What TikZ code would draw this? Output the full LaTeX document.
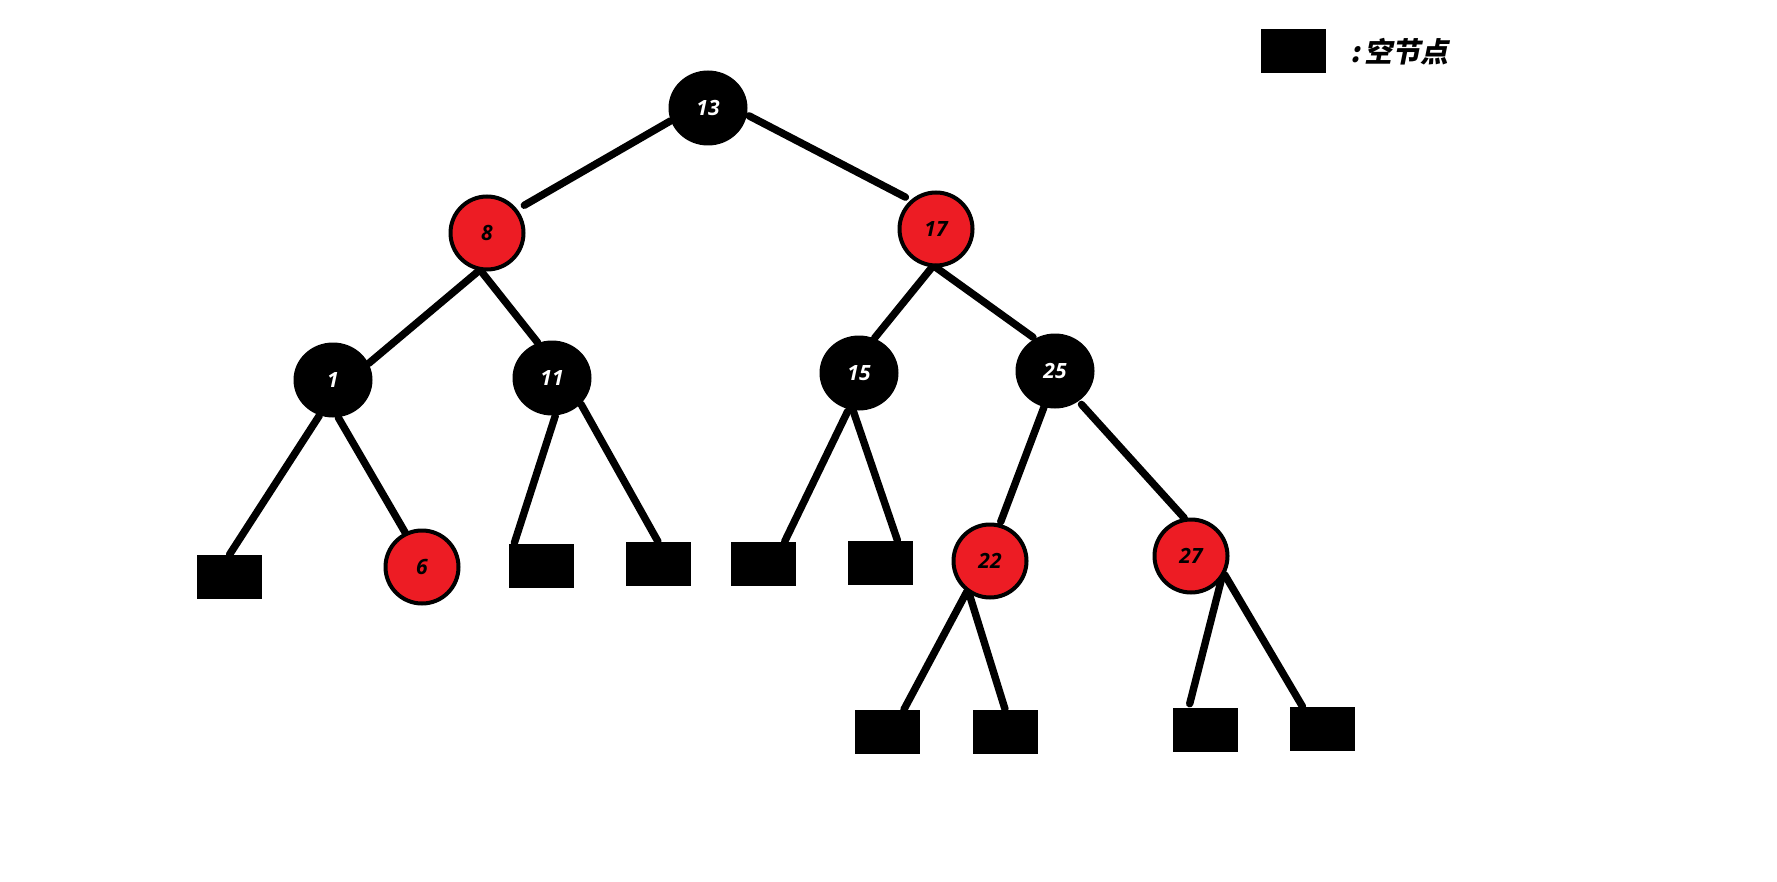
\documentclass[tikz,border=0pt]{standalone}
\usepackage{fontspec}
\setmainfont{Open Sans}
\newfontfamily\cjk[FakeSlant=0.2]{Noto Sans CJK SC}
\usetikzlibrary{positioning,shapes.geometric}
\definecolor{paintred}{RGB}{237,28,36}

\begin{document}
\begin{tikzpicture}[x=0.5pt,y=-0.5pt,
      bnode/.style={ellipse,fill=black,text=white,minimum width=39.5pt,minimum height=37.5pt,inner sep=0pt,font=\bfseries\itshape\fontsize{10.5}{12}\selectfont},
      rnode/.style={circle,draw=black,line width=2pt,fill=paintred,minimum size=36.5pt,inner sep=0pt,font=\bfseries\itshape\fontsize{10.5}{12}\selectfont},
      nil/.style={rectangle,fill=black,minimum width=32.5pt,minimum height=22pt,inner sep=0pt},
      ln/.style={line width=3.7pt,line cap=round}]
      \useasboundingbox (0,0) rectangle (1777,882);
      % tree nodes
      \node[bnode] (n13) at (708,108) {13};
      \node[rnode] (n8) at (487,233) {8};
      \node[rnode] (n17) at (936,229) {17};
      \node[bnode] (n1) at (333,380) {1};
      \node[bnode] (n11) at (552,378) {11};
      \node[bnode] (n15) at (859,373) {15};
      \node[bnode] (n25) at (1055,371) {25};
      \node[rnode] (n6) at (422,567) {6};
      \node[rnode] (n22) at (990,561) {22};
      \node[rnode] (n27) at (1191,556) {27};
      % empty leaves
      \node[nil] (l1) at (229.5,577) {};
      \node[nil] (l11a) at (541,565.5) {};
      \node[nil] (l11b) at (658,564) {};
      \node[nil] (l15a) at (763,564) {};
      \node[nil] (l15b) at (880,563) {};
      \node[nil] (l22a) at (887,732) {};
      \node[nil] (l22b) at (1005,731.5) {};
      \node[nil] (l27a) at (1205,730) {};
      \node[nil] (l27b) at (1322,729) {};
      % legend
      \node[nil] (key) at (1293,51.5) {};
      \node[right=11pt of key,inner sep=1pt,font=\cjk\bfseries\fontsize{14}{16}\selectfont] (keytxt) {:\hspace{2pt}空节点};
      % edges
      \draw[ln,shorten >=4pt] (n13.199) -- (n8.38);
      \draw[ln,shorten <=1pt,shorten >=3pt] (n13.350) -- (n17.131);
      \draw[ln] (n8.258) -- (n1.25);
      \draw[ln] (n8.261) -- (n11.112);
      \draw[ln] (n17.264) -- (n15.66);
      \draw[ln,shorten >=1pt] (n17.270) -- (n25.122);
      \draw[ln] (n1.249) -- (l1.north);
      \draw[ln] (n1.278) -- (n6.116);
      \draw[ln] (n11.275) -- (l11a.140);
      \draw[ln] (n11.318) -- (l11b.north);
      \draw[ln,shorten <=1pt] (n15.254) -- (l15a.46);
      \draw[ln] (n15.261) -- (l15b.52);
      \draw[ln,shorten >=1pt] (n25.253) -- (n22.75);
      \draw[ln,shorten <=2pt] (n25.308) -- (n27.100);
      \draw[ln] (n22.233) -- (l22a.53);
      \draw[ln] (n22.237) -- (l22b.north);
      \draw[ln,shorten >=2pt] (n27.322) -- (l27a.126);
      \draw[ln] (n27.331) -- (l27b.131);
\end{tikzpicture}
\end{document}
